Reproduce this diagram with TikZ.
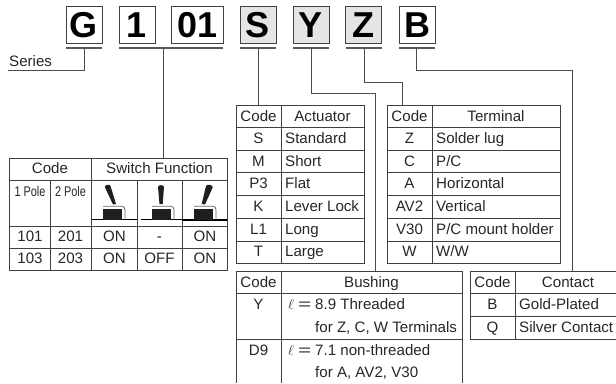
\documentclass[tikz,border=0pt]{standalone}
\usepackage{fontspec}
\setmainfont{Liberation Sans}
\usepackage{amssymb}
\usepackage{amsmath}
\definecolor{linegray}{gray}{0.25}
\definecolor{boxgray}{gray}{0.9}
\tikzset{
	rule/.style={draw=linegray, line width=0.8pt},
	link/.style={draw=black!70, line width=0.8pt},
	letter/.style={draw=black!75, line width=0.9pt, minimum height=37pt, inner sep=0pt, font=\fontsize{36}{36}\bfseries\selectfont},
	celltext/.style={inner sep=0pt, text height=13pt, text depth=3pt, text=black!85, font=\fontsize{15.1}{16}\selectfont},
	lefttext/.style={celltext, anchor=west},
	smalltext/.style={celltext, xscale=0.78, font=\fontsize{14}{16}\selectfont},
	under/.style={draw=black!65, line width=1.1pt}
}
\newcommand{\ellmark}{\makebox[27pt][l]{$\ell$\hspace{4pt}\scalebox{1.5}[1]{=}}}
\newcommand{\switchbody}[1]{
	\fill [black!88] (#1-9.5, 208.5) rectangle (#1+9.5, 219.5);
	\draw [black!60, line width=0.8pt] (#1-9.5, 206.3) -- (#1+9.5, 206.3) .. controls (#1+11.5, 206.3) and (#1+12.5, 207.5) .. (#1+12.5, 210) -- (#1+12.5, 219.5);
}
\begin{document}
\begin{tikzpicture}[x=1pt, y=-1pt]
	\useasboundingbox (0, 0) rectangle (616, 383);
	% part number
	\node [letter, minimum width=36pt] (g) at (84, 25.2) {G};
	\node [letter, minimum width=36pt] (one) at (137, 25.2) {1};
	\node [letter, minimum width=52pt] (ser) at (197.5, 25.2) {01};
	\node [letter, minimum width=36pt, fill=boxgray] (s) at (258, 25.2) {S};
	\node [letter, minimum width=36pt, fill=boxgray] (y) at (311, 25.2) {Y};
	\node [letter, minimum width=36pt, fill=boxgray] (z) at (363.5, 25.2) {Z};
	\node [letter, minimum width=36pt] (b) at (417, 25.2) {B};
	% underlines
	\coordinate (gl) at (66, 48);
	\coordinate (gr) at (102, 48);
	\coordinate (nl) at (119, 48);
	\coordinate (nr) at (223, 48);
	\coordinate (sl) at (240, 48);
	\coordinate (sr) at (276, 48);
	\coordinate (yl) at (293, 48);
	\coordinate (yr) at (329, 48);
	\coordinate (zl) at (345.5, 48);
	\coordinate (zr) at (381.5, 48);
	\coordinate (bl) at (399, 48);
	\coordinate (br) at (435, 48);
	\draw [under] (gl) -- (gr);
	\draw [under] (nl) -- (nr);
	\draw [under] (sl) -- (sr);
	\draw [under] (yl) -- (yr);
	\draw [under] (zl) -- (zr);
	\draw [under] (bl) -- (br);
	% leaders
	\node [lefttext] (series) at (9, 61.8) {Series};
	\coordinate (seriesend) at (8, 70);
	\coordinate (a0) at (84.5, 48);
	\coordinate (a1) at (163.5, 48);
	\coordinate (a2) at (258, 48);
	\coordinate (a3) at (311, 48);
	\coordinate (a4) at (364, 48);
	\coordinate (a5) at (416.5, 48);
	\coordinate (t1) at (163.5, 158);
	\coordinate (t2) at (258, 105);
	\coordinate (t3) at (375.5, 271.5);
	\coordinate (t4) at (402, 105);
	\coordinate (t5) at (572, 271.5);
	\draw [link] (seriesend) -| (a0);
	\draw [link] (a1) -- (t1);
	\draw [link] (a2) -- (t2);
	\draw [link] (a3) |- (375.5, 93) -- (t3);
	\draw [link] (a4) |- (402, 82) -- (t4);
	\draw [link] (a5) |- (572, 70) -- (t5);
	% switch table
	\draw [rule] (9, 158) rectangle (227, 270.5);
	\foreach \yy in {180, 226, 248.5}
		\draw [rule] (9, \yy) -- (227, \yy);
	\draw [rule] (91.5, 158) -- (91.5, 270.5);
	\foreach \xx in {50, 137, 182}
		\draw [rule] (\xx, 180) -- (\xx, 270.5);
	\node [celltext] (c0) at (50, 168.5) {Code};
	\node [celltext] (c1) at (159.5, 168.5) {Switch Function};
	\node [smalltext] (c2) at (30, 191) {1 Pole};
	\node [smalltext] (c3) at (70.5, 191) {2 Pole};
	\foreach \xx/\aa/\nn in {30/101/a, 70.5/201/b, 114.5/ON/c, 159.5/-/d, 205/ON/e}
		\node [celltext] (r\nn) at (\xx, 236) {\aa};
	\foreach \xx/\aa/\nn in {30/103/a, 70.5/203/b, 114.5/ON/c, 159.5/OFF/d, 205/ON/e}
		\node [celltext] (q\nn) at (\xx, 258.5) {\aa};
	% toggles
	\draw [black, line width=0.9pt] (91.5, 219.7) -- (137, 219.7);
	\draw [black, line width=1.1pt] (141, 219.7) -- (182, 219.7);
	\draw [black, line width=1.8pt] (182, 220) -- (227, 220);
	\switchbody{112.5}
	\switchbody{161.5}
	\switchbody{203.5}
	\fill [black!88] (104.8, 187) .. controls (105, 184.5) and (109.5, 184) .. (110.5, 186) -- (116, 204) -- (113, 204.5) -- cycle;
	\fill [black!88] (158, 187) .. controls (158.5, 184.5) and (163.5, 184.5) .. (164, 187) -- (162.7, 204) -- (159.5, 204) -- cycle;
	\fill [black!88] (206, 186) .. controls (207.5, 184) and (212.5, 184.5) .. (212.7, 187.5) -- (205, 204.5) -- (201.7, 204) -- cycle;
	% actuator table
	\draw [rule] (236, 105) rectangle (364, 263.5);
	\draw [rule] (281, 105) -- (281, 263.5);
	\foreach \yy in {127.5, 150, 172.5, 195.5, 218, 241}
		\draw [rule] (236, \yy) -- (364, \yy);
	\node [celltext] (h0) at (258.5, 116) {Code};
	\node [celltext] (h1) at (322.5, 116) {Actuator};
	\foreach \yy/\aa/\bb/\nn in {138.5/S/Standard/a, 161/M/Short/b, 183.5/P3/Flat/c, 206/K/Lever Lock/d, 229.5/L1/Long/e, 251.5/T/Large/f} {
		\node [celltext] (k\nn) at (258.5, \yy) {\aa};
		\node [lefttext] (v\nn) at (285, \yy) {\bb};
	}
	% terminal table
	\draw [rule] (387, 105) rectangle (560.5, 263.5);
	\draw [rule] (432, 105) -- (432, 263.5);
	\foreach \yy in {127.5, 150, 172.5, 195.5, 218, 241}
		\draw [rule] (387, \yy) -- (560.5, \yy);
	\node [celltext] (i0) at (409.5, 116) {Code};
	\node [celltext] (i1) at (496, 116) {Terminal};
	\foreach \yy/\aa/\bb/\nn in {138.5/Z/Solder lug/a, 161/C/P\slash C/b, 183.5/A/Horizontal/c, 206/AV2/Vertical/d, 229.5/V30/P\slash C mount holder/e, 251.5/W/W\slash W/f} {
		\node [celltext] (m\nn) at (409.5, \yy) {\aa};
		\node [lefttext] (w\nn) at (436, \yy) {\bb};
	}
	% bushing table
	\draw [rule] (236, 383) -- (236, 271.5) -- (462, 271.5) -- (462, 383);
	\draw [rule] (281, 271.5) -- (281, 383);
	\draw [rule] (236, 293.5) -- (462, 293.5);
	\draw [rule] (236, 339.5) -- (462, 339.5);
	\node [celltext] (j0) at (258.5, 282.5) {Code};
	\node [celltext] (j1) at (371.5, 282.5) {Bushing};
	\node [celltext] (j2) at (258.5, 304) {Y};
	\node [celltext] (j3) at (258.5, 350) {D9};
	\node [lefttext] (j4) at (288, 304.5) {\ellmark 8.9 Threaded};
	\node [lefttext] (j5) at (315, 327.5) {for Z, C, W Terminals};
	\node [lefttext] (j6) at (288, 350) {\ellmark 7.1 non-threaded};
	\node [lefttext] (j7) at (315, 372.5) {for A, AV2, V30};
	% contact table
	\draw [rule] (616, 271.5) -- (470.5, 271.5) -- (470.5, 339) -- (616, 339);
	\draw [rule] (515, 271.5) -- (515, 339);
	\draw [rule] (470.5, 293.5) -- (616, 293.5);
	\draw [rule] (470.5, 316.5) -- (616, 316.5);
	\node [celltext] (n0) at (492.5, 282.5) {Code};
	\node [celltext] (n1) at (568, 282.5) {Contact};
	\node [celltext] (n2) at (492.5, 304.5) {B};
	\node [celltext] (n3) at (492.5, 327.5) {Q};
	\node [lefttext] (n4) at (519, 304.5) {Gold-Plated};
	\node [lefttext] (n5) at (519, 327.5) {Silver Contact};
\end{tikzpicture}
\end{document}
